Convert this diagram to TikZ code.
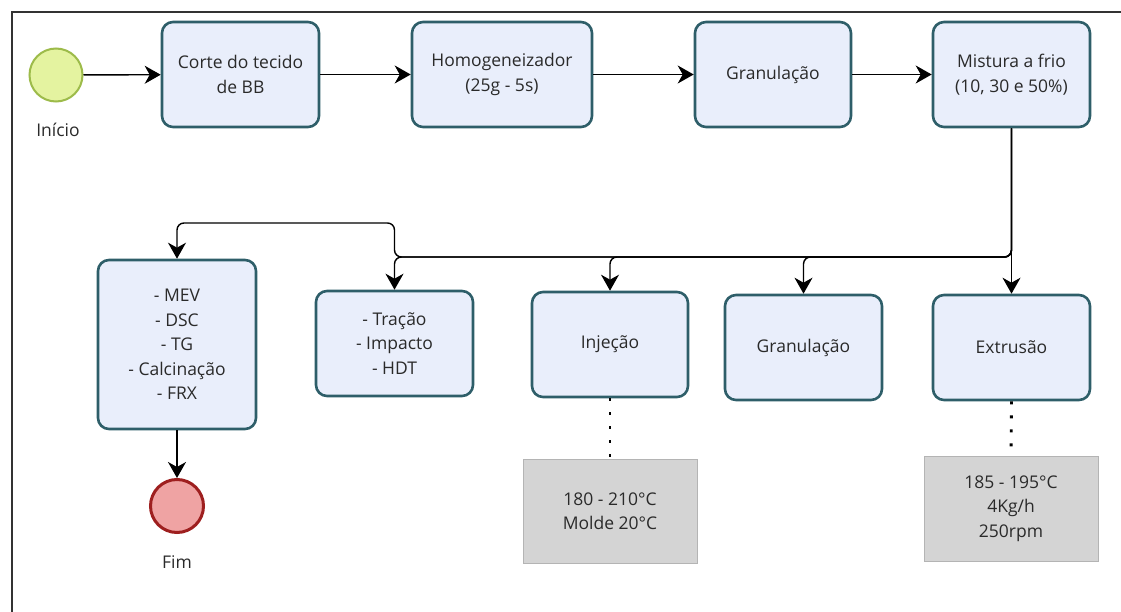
\documentclass[tikz,border=0pt]{standalone}
\usepackage{fontspec}
\setmainfont{Open Sans}
\usetikzlibrary{arrows.meta}
\definecolor{boxborder}{HTML}{2E5E69}
\definecolor{boxfill}{HTML}{E9EEFB}
\definecolor{startfill}{HTML}{E4F3A0}
\definecolor{startborder}{HTML}{9DBB4A}
\definecolor{endfill}{HTML}{EFA3A3}
\definecolor{endborder}{HTML}{9E1F1F}
\definecolor{notefill}{HTML}{D4D4D4}
\definecolor{txt}{HTML}{2A2A2A}
\tikzset{
  task/.style={draw=boxborder, line width=2.6pt, fill=boxfill, rounded corners=11pt, align=center, text=txt, font=\fontsize{17.5}{24.5}\selectfont},
  note/.style={draw=notefill!85!black, line width=0.6pt, fill=notefill, align=center, text=txt, font=\fontsize{17.5}{24.5}\selectfont},
  flow/.style={draw=black, line width=1.4pt, arrows={-Stealth[length=16pt,width=18pt,inset=5pt]}},
  dots/.style={draw=black, line width=2.8pt, line cap=butt, dash pattern=on 3pt off 11pt},
  lbl/.style={text=txt, font=\fontsize{17.5}{20}\selectfont}
}
\begin{document}
\begin{tikzpicture}[x=1pt,y=-1pt]
\useasboundingbox (0,0) rectangle (1121,612);
% frame
\draw[line width=1.4pt, black!80] (12,612) -- (12,12) -- (1121,12);
% start / end
\node[circle, draw=startborder, line width=2pt, fill=startfill, minimum size=53pt, inner sep=0pt] (ini) at (56,75) {};
\node[lbl] (inilbl) at (58,130) {Início};
\node[circle, draw=endborder, line width=3pt, fill=endfill, minimum size=53pt, inner sep=0pt] (fim) at (177,506) {};
\node[lbl] (fimlbl) at (177,562) {Fim};
% top row
\node[task, minimum width=157pt, minimum height=105pt] (cor) at (240.5,74.5) {Corte do tecido\\de BB};
\node[task, minimum width=180pt, minimum height=105pt] (hom) at (502,74.5) {Homogeneizador\\(25g - 5s)};
\node[task, minimum width=156pt, minimum height=105pt] (gra) at (773,74.5) {Granulação};
\node[task, minimum width=157pt, minimum height=105pt] (mis) at (1011.5,74.5) {Mistura a frio\\(10, 30 e 50\%)};
% bottom row
\node[task, minimum width=158pt, minimum height=169pt] (mev) at (177,344.5) {- MEV\\- DSC\\- TG\\- Calcinação\\- FRX};
\node[task, minimum width=157pt, minimum height=105pt] (tra) at (394.5,343.5) {- Tração\\- Impacto\\- HDT};
\node[task, minimum width=156pt, minimum height=105pt] (inj) at (610,344.5) {Injeção};
\node[task, minimum width=157pt, minimum height=105pt] (gr2) at (803.5,347.5) {Granulação};
\node[task, minimum width=157pt, minimum height=105pt] (ext) at (1011.5,347.5) {Extrusão};
% notes
\node[note, minimum width=174pt, minimum height=104pt] (ninj) at (610,511) {180 - 210°C\\Molde 20°C};
\node[note, minimum width=174pt, minimum height=105pt] (next) at (1011,508.5) {185 - 195°C\\4Kg/h\\250rpm};
% flows
\draw[flow] (ini) -- (cor);
\draw[flow] (cor) -- (hom);
\draw[flow] (hom) -- (gra);
\draw[flow] (gra) -- (mis);
\draw[flow] (mis) -- (ext);
\draw[flow, rounded corners=7pt] (mis.south) |- (inj.north |- 0,257) -- (inj.north);
\draw[flow, rounded corners=7pt] (mis.south) |- (gr2.north |- 0,257) -- (gr2.north);
\draw[flow, rounded corners=7pt] (mis.south) |- (tra.north |- 0,257) -- (tra.north);
\draw[flow, rounded corners=7pt] (mis.south) |- (tra.north |- 0,257) |- (mev.north |- 0,223) -- (mev.north);
\draw[flow] (mev) -- (fim);
% dotted associations
\draw[dots] (inj.south) -- (ninj.north);
\draw[dots] (ext.south) -- (next.north);
\end{tikzpicture}
\end{document}
